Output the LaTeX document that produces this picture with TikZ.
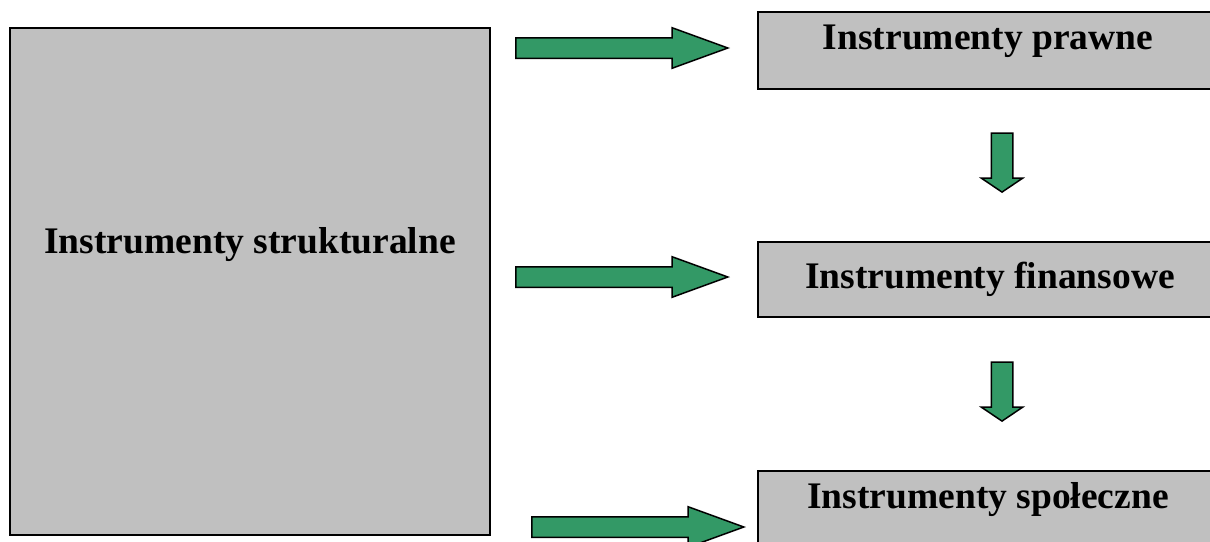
\documentclass[tikz,border=0pt]{standalone}
\usepackage{fontspec}
\setmainfont{Liberation Serif}
\usetikzlibrary{shapes.arrows,positioning}
\definecolor{boxgray}{HTML}{C0C0C0}
\definecolor{arrgreen}{HTML}{339966}
\tikzset{
  box/.style={rectangle, draw, line width=2pt, fill=boxgray, inner sep=0pt},
  lbl/.style={anchor=base, inner sep=0pt, font=\fontsize{37.5}{44}\selectfont\bfseries},
  harr/.style={single arrow, draw, line width=1.5pt, fill=arrgreen, minimum width=0pt,
               minimum height=212pt, inner xsep=0pt, inner ysep=9.5pt, anchor=tip,
               single arrow head extend=10pt, single arrow tip angle=40},
  varr/.style={single arrow, draw, line width=1.5pt, fill=arrgreen, minimum width=0pt,
               minimum height=59pt, inner xsep=0pt, inner ysep=10pt, anchor=tip,
               single arrow head extend=10pt, single arrow tip angle=112, rotate=-90}
}
\begin{document}
\begin{tikzpicture}[x=1pt, y=-1pt]
  \useasboundingbox (0,0) rectangle (1210,541);
  \clip (0,0) rectangle (1210,541);
  % boxes
  \node[box, minimum width=480pt, minimum height=507pt] (strukt) at (250,281.5) {};
  \node[box, minimum width=460pt, minimum height=77pt] (prawne) at (988,50.5) {};
  \node[box, minimum width=460pt, minimum height=75pt] (finans) at (988,279.5) {};
  \node[box, minimum width=460pt, minimum height=75pt] (spol) at (988,508.5) {};
  % labels
  \node[lbl] (tstrukt) at (250,253) {Instrumenty strukturalne};
  \node[lbl] (tprawne) at (988,49) {Instrumenty prawne};
  \node[lbl] (tfinans) at (990,288) {Instrumenty finansowe};
  \node[lbl] (tspol) at (988,508) {Instrumenty społeczne};
  % arrows
  \node[harr] (arP) at (730,48) {};
  \node[harr] (arF) at (730,277) {};
  \node[harr] (arS) at (746,527) {};
  \node[varr] (dnPF) at (1002,193) {};
  \node[varr] (dnFS) at (1002,422) {};
\end{tikzpicture}
\end{document}
